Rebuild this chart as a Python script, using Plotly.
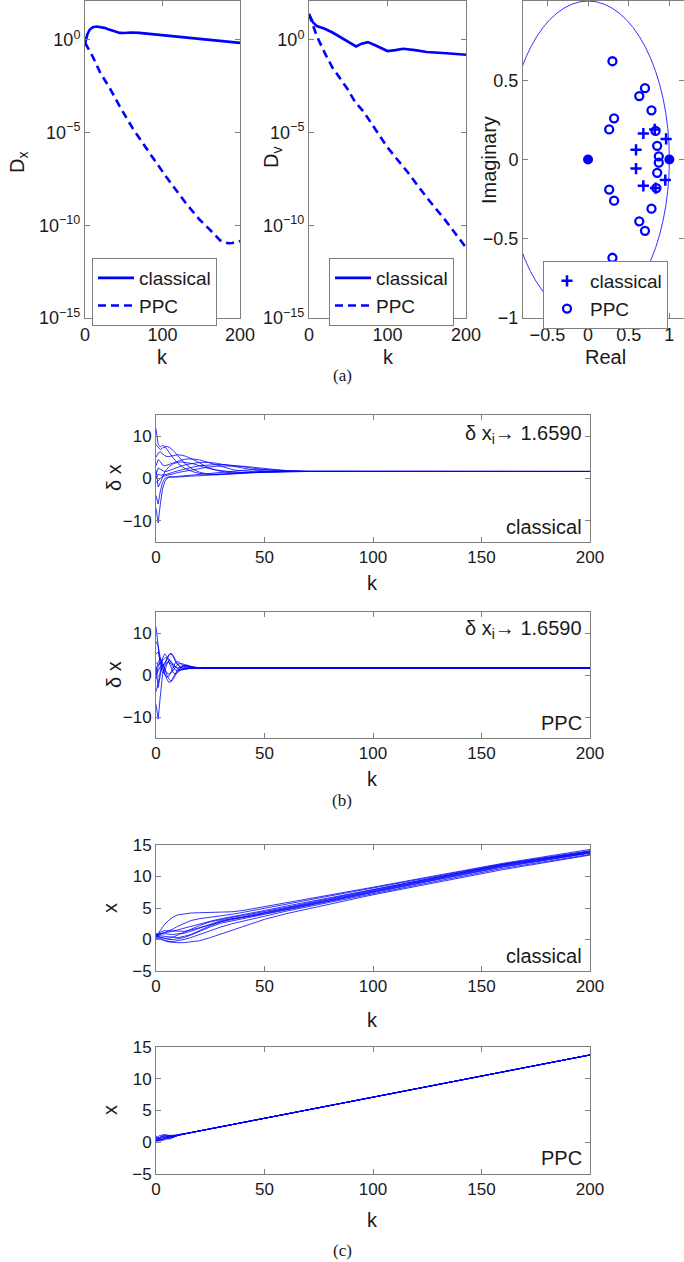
import numpy as np
import plotly.graph_objects as go

W, H = 684, 1262
BLUE = "#0000ff"
FRAME = "#7f7f7f"
TXT = "#1a1a1a"
FONT = "Liberation Sans, Arial, Helvetica, sans-serif"

# ---------------- (a) disagreement norms (log10 values) ----------------
k_dx_classical = [0, 3, 6, 10, 15, 20, 25, 30, 35, 40, 45, 50, 60, 70, 80, 100, 120, 150, 175, 200]
log_dx_classical = [-0.2, 0.3, 0.55, 0.68, 0.72, 0.7, 0.65, 0.58, 0.5, 0.43, 0.38, 0.37, 0.4, 0.38,
                    0.34, 0.26, 0.19, 0.07, -0.04, -0.16]
k_dx_ppc = [0, 5, 10, 20, 32, 45, 62, 80, 105, 130, 148, 165, 174, 180, 185, 190, 195, 200]
log_dx_ppc = [-0.15, -0.5, -0.9, -1.8, -2.6, -3.6, -4.8, -5.9, -7.4, -8.8, -9.7, -10.4, -10.8,
              -10.93, -10.97, -10.95, -10.9, -10.85]

k_dv_classical = [0, 5, 10, 20, 30, 40, 50, 60, 67, 75, 85, 100, 110, 120, 135, 150, 175, 200]
log_dv_classical = [1.4, 0.95, 0.75, 0.6, 0.4, 0.15, -0.1, -0.35, -0.2, -0.12, -0.3, -0.6, -0.55,
                    -0.48, -0.55, -0.65, -0.72, -0.8]
k_dv_ppc = [0, 10, 20, 30, 40, 50, 58, 70, 100, 125, 150, 175, 200]
log_dv_ppc = [1.4, 0.2, -0.7, -1.5, -2.1, -2.7, -3.3, -3.9, -5.8, -7.1, -8.5, -9.8, -11.2]

# eigenvalues
eig_classical_re = [0.68, 0.82, 0.96, 0.59, 0.59, 0.68, 0.83, 0.95]
eig_classical_im = [0.164, 0.19, 0.13, 0.061, -0.057, -0.166, -0.18, -0.13]
eig_ppc_re = [0.30, 0.70, 0.63, 0.78, 0.32, 0.26, 0.83, 0.85, 0.87,
              0.87, 0.85, 0.84, 0.26, 0.32, 0.78, 0.63, 0.70, 0.30]
eig_ppc_im = [0.62, 0.45, 0.40, 0.31, 0.26, 0.19, 0.18, 0.086, 0.02,
              -0.02, -0.084, -0.18, -0.19, -0.26, -0.31, -0.39, -0.45, -0.62]
eig_common_re = [0.0, 1.0]
eig_common_im = [0.0, 0.0]

# ---------------- (b) delta x trajectories ----------------
k_b_classical = [0, 1, 2, 3, 4, 5, 6, 8, 10, 12, 14, 17, 20, 24, 28, 32, 36, 40, 45, 50, 55, 60, 70, 200]
dx_classical = [
    [11.8, 8.0, 7.5, 7.8, 7.6, 7.0, 6.2, 4.8, 3.6, 2.8, 2.2, 1.6, 1.2, 1.0, 1.0, 1.1, 1.3, 1.4, 1.5, 1.6, 1.62, 1.65, 1.66, 1.659],
    [8.0, 7.5, 6.8, 7.2, 7.5, 7.6, 7.4, 6.6, 5.4, 4.2, 3.2, 2.2, 1.5, 1.0, 0.9, 1.0, 1.2, 1.4, 1.5, 1.6, 1.64, 1.65, 1.66, 1.659],
    [5.0, 6.0, 6.3, 5.8, 5.4, 5.2, 5.2, 5.4, 5.6, 5.5, 5.2, 4.5, 3.6, 2.6, 1.9, 1.5, 1.3, 1.3, 1.4, 1.5, 1.6, 1.64, 1.66, 1.659],
    [3.0, 4.5, 4.0, 3.2, 3.0, 3.1, 3.3, 3.7, 4.1, 4.4, 4.6, 4.6, 4.4, 3.8, 3.1, 2.5, 2.0, 1.8, 1.6, 1.6, 1.62, 1.64, 1.66, 1.659],
    [1.0, 2.5, 2.2, 1.8, 1.6, 1.7, 1.9, 2.3, 2.7, 3.0, 3.3, 3.6, 3.8, 3.8, 3.6, 3.2, 2.8, 2.4, 2.0, 1.8, 1.7, 1.66, 1.66, 1.659],
    [0.0, 1.0, 0.8, 0.8, 0.9, 1.0, 1.2, 1.5, 1.8, 2.1, 2.4, 2.7, 3.0, 3.2, 3.3, 3.3, 3.1, 2.8, 2.4, 2.1, 1.9, 1.75, 1.68, 1.659],
    [-1.0, -0.5, 0.2, 0.5, 0.6, 0.7, 0.9, 1.1, 1.4, 1.6, 1.8, 2.1, 2.4, 2.7, 2.9, 3.0, 3.0, 2.9, 2.6, 2.3, 2.0, 1.85, 1.7, 1.659],
    [-4.0, -6.0, -3.0, -1.0, 0.0, 0.3, 0.4, 0.4, 0.5, 0.6, 0.7, 0.8, 0.9, 1.1, 1.3, 1.5, 1.7, 1.9, 2.1, 2.1, 2.0, 1.9, 1.72, 1.659],
    [-7.0, -10.5, -6.0, -2.5, -0.8, 0.0, 0.3, 0.3, 0.3, 0.4, 0.5, 0.6, 0.7, 0.8, 0.9, 1.0, 1.1, 1.2, 1.35, 1.5, 1.6, 1.65, 1.66, 1.659],
    [2.0, -2.0, -1.0, 0.5, 1.5, 2.2, 2.8, 3.5, 3.8, 3.9, 3.8, 3.5, 3.0, 2.4, 2.0, 1.7, 1.5, 1.4, 1.45, 1.5, 1.58, 1.63, 1.66, 1.659],
]

k_b_ppc = [0, 1, 2, 3, 4, 5, 6, 7, 8, 9, 10, 12, 14, 16, 18, 20, 24, 28, 35, 200]
dx_ppc = [
    [11.5, 6.0, 2.0, 0.5, 1.0, 2.5, 3.5, 3.2, 2.5, 1.8, 1.4, 1.3, 1.5, 1.7, 1.7, 1.66, 1.66, 1.659, 1.659, 1.659],
    [8.0, 7.0, 4.0, 2.0, 2.5, 3.8, 4.8, 5.2, 4.6, 3.5, 2.5, 1.5, 1.4, 1.6, 1.75, 1.72, 1.67, 1.66, 1.659, 1.659],
    [5.0, 5.5, 3.5, 2.0, 2.8, 4.0, 4.9, 5.0, 4.3, 3.2, 2.4, 1.7, 1.6, 1.7, 1.72, 1.7, 1.67, 1.66, 1.659, 1.659],
    [3.0, 2.5, 3.0, 3.5, 4.0, 4.2, 3.8, 3.0, 2.2, 1.8, 1.7, 1.9, 2.1, 2.0, 1.85, 1.75, 1.68, 1.66, 1.659, 1.659],
    [1.0, 3.0, 4.0, 3.0, 1.5, 0.5, 0.2, 0.5, 1.2, 2.0, 2.6, 2.7, 2.3, 1.9, 1.7, 1.65, 1.65, 1.66, 1.659, 1.659],
    [0.0, 1.0, 2.0, 2.5, 1.5, 0.0, -1.0, -1.5, -1.0, 0.0, 0.9, 2.0, 2.4, 2.1, 1.8, 1.7, 1.66, 1.659, 1.659, 1.659],
    [-1.0, 2.0, 3.0, 1.5, 0.0, -0.5, -0.2, 0.8, 2.0, 3.0, 3.2, 2.6, 1.8, 1.5, 1.55, 1.62, 1.65, 1.66, 1.659, 1.659],
    [-4.0, -2.0, 1.0, 2.0, 0.5, -1.0, -1.8, -1.5, -0.5, 0.5, 1.3, 2.2, 2.3, 1.9, 1.7, 1.64, 1.65, 1.66, 1.659, 1.659],
    [-7.0, -10.5, -5.0, 0.0, 2.0, 3.0, 3.2, 2.6, 1.8, 1.2, 1.0, 1.2, 1.5, 1.65, 1.7, 1.68, 1.66, 1.659, 1.659, 1.659],
    [2.0, -3.0, 0.0, 4.0, 5.0, 4.5, 3.0, 1.5, 0.5, 0.2, 0.6, 1.4, 1.9, 1.9, 1.75, 1.7, 1.66, 1.659, 1.659, 1.659],
]

# ---------------- (c) position trajectories ----------------
k_c_classical = [0, 2, 4, 6, 8, 10, 13, 16, 20, 25, 30, 35, 40, 50, 60, 80, 100, 130, 160, 200]
x_classical = [
    [0.5, 1.5, 2.4, 3.1, 3.6, 3.9, 4.1, 4.2, 4.25, 4.3, 4.35, 4.4, 4.6, 5.2, 5.8, 7.0, 8.3, 10.2, 12.1, 14.3],
    [0.5, 0.8, 1.0, 1.3, 1.7, 2.1, 2.6, 3.0, 3.3, 3.5, 3.8, 4.0, 4.3, 5.0, 5.6, 6.9, 8.2, 10.1, 12.0, 14.1],
    [0.8, 1.0, 1.1, 1.2, 1.3, 1.5, 1.8, 2.1, 2.5, 2.9, 3.3, 3.6, 3.9, 4.6, 5.3, 6.6, 8.0, 9.9, 11.9, 14.0],
    [0.3, 1.2, 1.4, 1.4, 1.3, 1.3, 1.3, 1.5, 1.9, 2.4, 2.9, 3.3, 3.6, 4.3, 5.0, 6.4, 7.8, 9.8, 11.8, 13.9],
    [0.6, 0.9, 0.9, 0.8, 0.8, 0.9, 1.0, 1.3, 1.8, 2.5, 3.0, 3.3, 3.5, 4.2, 4.9, 6.3, 7.7, 9.7, 11.7, 13.8],
    [0.4, 0.6, 0.5, 0.4, 0.3, 0.3, 0.5, 0.8, 1.4, 2.2, 2.8, 3.2, 3.5, 4.1, 4.8, 6.2, 7.6, 9.6, 11.6, 13.75],
    [0.5, 0.3, 0.1, 0.0, 0.0, 0.1, 0.3, 0.7, 1.3, 2.0, 2.6, 3.0, 3.3, 4.0, 4.7, 6.1, 7.5, 9.5, 11.5, 13.7],
    [0.2, 0.0, -0.2, -0.3, -0.3, -0.2, 0.0, 0.3, 0.8, 1.4, 2.0, 2.5, 2.9, 3.7, 4.5, 5.9, 7.3, 9.3, 11.3, 13.5],
    [0.5, 0.1, -0.2, -0.4, -0.5, -0.5, -0.5, -0.4, -0.2, 0.3, 0.9, 1.5, 2.1, 3.2, 4.1, 5.6, 7.1, 9.1, 11.1, 13.4],
    [1.0, 0.4, 0.2, 0.2, 0.4, 0.7, 1.1, 1.6, 2.2, 2.8, 3.2, 3.5, 3.8, 4.4, 5.1, 6.5, 7.9, 9.9, 11.9, 13.95],
]

k_c_ppc = [0, 1, 2, 3, 4, 5, 6, 7, 8, 10, 12, 15, 20, 200]
x_ppc = [
    [0.5, 0.9, 1.1, 1.0, 0.8, 0.6, 0.5, 0.6, 0.8, 1.1, 1.25, 1.45, 1.78, 13.75],
    [0.2, 0.5, 0.8, 1.1, 1.2, 1.2, 1.1, 0.9, 0.8, 1.05, 1.25, 1.45, 1.78, 13.75],
    [0.8, 0.6, 0.4, 0.4, 0.5, 0.7, 0.9, 1.0, 1.0, 1.12, 1.25, 1.45, 1.78, 13.75],
    [0.3, 0.2, 0.3, 0.5, 0.7, 0.9, 1.0, 1.1, 1.05, 1.1, 1.25, 1.45, 1.78, 13.75],
    [0.6, 0.3, 0.2, 0.3, 0.4, 0.5, 0.6, 0.8, 0.9, 1.1, 1.25, 1.45, 1.78, 13.75],
    [0.0, 0.4, 0.7, 0.9, 1.0, 0.9, 0.8, 0.8, 0.9, 1.1, 1.25, 1.45, 1.78, 13.75],
    [1.0, 0.7, 0.5, 0.5, 0.6, 0.8, 1.0, 1.05, 1.0, 1.1, 1.25, 1.45, 1.78, 13.75],
    [0.4, 0.3, 0.5, 0.8, 1.0, 1.1, 1.0, 0.9, 0.95, 1.1, 1.25, 1.45, 1.78, 13.75],
    [0.7, 0.6, 0.6, 0.7, 0.8, 0.8, 0.8, 0.9, 1.0, 1.1, 1.25, 1.45, 1.78, 13.75],
    [0.1, 0.5, 0.9, 1.2, 1.1, 0.9, 0.7, 0.7, 0.9, 1.1, 1.25, 1.45, 1.78, 13.75],
]

# ---------------- layout helpers (pixel boxes) ----------------
def dx(l, r):
    return [l / W, min(r / W, 1.0)]

def dy(t, b):
    return [1 - b / H, 1 - t / H]

def px(x):
    return x / W

def py(y):
    return 1 - y / H

fig = go.Figure()

# (a1)
fig.add_trace(go.Scatter(x=k_dx_classical, y=np.power(10.0, log_dx_classical), mode="lines",
                         line=dict(color=BLUE, width=2.6), name="classical",
                         xaxis="x", yaxis="y", legend="legend"))
fig.add_trace(go.Scatter(x=k_dx_ppc, y=np.power(10.0, log_dx_ppc), mode="lines",
                         line=dict(color=BLUE, width=2.6, dash="8px,5px"), name="PPC",
                         xaxis="x", yaxis="y", legend="legend"))
# (a2)
fig.add_trace(go.Scatter(x=k_dv_classical, y=np.power(10.0, log_dv_classical), mode="lines",
                         line=dict(color=BLUE, width=2.6), name="classical",
                         xaxis="x2", yaxis="y2", legend="legend2"))
fig.add_trace(go.Scatter(x=k_dv_ppc, y=np.power(10.0, log_dv_ppc), mode="lines",
                         line=dict(color=BLUE, width=2.6, dash="8px,5px"), name="PPC",
                         xaxis="x2", yaxis="y2", legend="legend2"))
# (a3)
fig.add_trace(go.Scatter(x=eig_classical_re, y=eig_classical_im, mode="markers",
                         marker=dict(symbol="cross-thin", size=8, color=BLUE,
                                     line=dict(color=BLUE, width=2.5)),
                         name="classical", xaxis="x3", yaxis="y3", legend="legend3"))
fig.add_trace(go.Scatter(x=eig_ppc_re, y=eig_ppc_im, mode="markers",
                         marker=dict(symbol="circle-open", size=8, color=BLUE,
                                     line=dict(color=BLUE, width=2.3)),
                         name="PPC", xaxis="x3", yaxis="y3", legend="legend3"))
fig.add_trace(go.Scatter(x=eig_common_re, y=eig_common_im, mode="markers",
                         marker=dict(symbol="circle", size=10, color=BLUE),
                         showlegend=False, xaxis="x3", yaxis="y3"))

# (b) and (c) multi-agent lines
for series in dx_classical:
    fig.add_trace(go.Scatter(x=k_b_classical, y=series, mode="lines",
                             line=dict(color=BLUE, width=0.8), showlegend=False,
                             xaxis="x4", yaxis="y4"))
for series in dx_ppc:
    fig.add_trace(go.Scatter(x=k_b_ppc, y=series, mode="lines",
                             line=dict(color=BLUE, width=0.8), showlegend=False,
                             xaxis="x5", yaxis="y5"))
for series in x_classical:
    fig.add_trace(go.Scatter(x=k_c_classical, y=series, mode="lines",
                             line=dict(color=BLUE, width=0.8), showlegend=False,
                             xaxis="x6", yaxis="y6"))
for series in x_ppc:
    fig.add_trace(go.Scatter(x=k_c_ppc, y=series, mode="lines",
                             line=dict(color=BLUE, width=0.8), showlegend=False,
                             xaxis="x7", yaxis="y7"))

def ax(domain, anchor, tickfont=17, **kw):
    d = dict(domain=domain, anchor=anchor, showline=True, linecolor=FRAME, linewidth=1,
             mirror="allticks", ticks="inside", ticklen=5, tickcolor=FRAME, tickwidth=1,
             showgrid=False, zeroline=False, automargin=False,
             tickfont=dict(family=FONT, size=tickfont, color=TXT))
    d.update(kw)
    return d

boxes = {
    1: (85, 240, 1, 318),
    2: (309, 466, 1, 318),
    3: (523, 686, 1, 318),
    4: (156, 590, 415, 542),
    5: (156, 590, 612, 738),
    6: (156, 590, 845, 971),
    7: (156, 590, 1047, 1174),
}

logticks = [1e-15, 1e-10, 1e-5, 1]
logtext = ["10<sup>\u221215</sup>", "10<sup>\u221210</sup>", "10<sup>\u22125</sup>", "10<sup>0</sup>"]
kticks200 = [0, 50, 100, 150, 200]

layout = dict(width=W, height=H, margin=dict(l=0, r=0, t=0, b=0, pad=0, autoexpand=False),
              paper_bgcolor="white", plot_bgcolor="white",
              font=dict(family=FONT, color=TXT))

for i, (l, r, t, b) in boxes.items():
    sx = "" if i == 1 else str(i)
    xd = dx(l, r)
    yd = dy(t, b)
    if i in (1, 2):
        layout["xaxis" + sx] = ax(xd, "y" + sx, 18, range=[0, 200], tickvals=[0, 100, 200])
        layout["yaxis" + sx] = ax(yd, "x" + sx, 18, type="log", range=[-15, 2.1],
                                  tickvals=logticks, ticktext=logtext)
    elif i == 3:
        layout["xaxis3"] = ax(xd, "y3", 18, range=[-0.8, 1.18], tickvals=[-0.5, 0, 0.5, 1],
                              ticktext=["\u22120.5", "0", "0.5", "1"])
        layout["yaxis3"] = ax(yd, "x3", 18, range=[-1, 1], tickvals=[-1, -0.5, 0, 0.5, 1],
                              ticktext=["\u22121", "\u22120.5", "0", "0.5", "1"])
    elif i in (4, 5):
        layout["xaxis" + sx] = ax(xd, "y" + sx, 17, range=[0, 200], tickvals=kticks200)
        layout["yaxis" + sx] = ax(yd, "x" + sx, 17, range=[-15, 15], tickvals=[-10, 0, 10],
                                  ticktext=["\u221210", "0", "10"])
    else:
        layout["xaxis" + sx] = ax(xd, "y" + sx, 17, range=[0, 200], tickvals=kticks200)
        layout["yaxis" + sx] = ax(yd, "x" + sx, 17, range=[-5, 15], tickvals=[-5, 0, 5, 10, 15],
                                  ticktext=["\u22125", "0", "5", "10", "15"])

leg_common = dict(bgcolor="white", bordercolor=FRAME, borderwidth=1,
                  font=dict(family=FONT, size=19, color=TXT), xanchor="left", yanchor="top",
                  itemwidth=36, tracegroupgap=0)
layout["legend"] = dict(leg_common, x=px(92), y=py(258))
layout["legend2"] = dict(leg_common, x=px(329), y=py(258))
layout["legend3"] = dict(leg_common, x=px(543), y=py(261))
layout["showlegend"] = True

# unit circle on the eigenvalue plot
layout["shapes"] = [dict(type="circle", xref="x3", yref="y3", x0=-1, y0=-1, x1=1, y1=1,
                         line=dict(color=BLUE, width=0.8), layer="above")]

def ann(text, x, y, size=19, angle=0, xanchor="center", family=FONT):
    return dict(text=text, x=px(x), y=py(y), xref="paper", yref="paper", showarrow=False,
                xanchor=xanchor, yanchor="middle", textangle=angle,
                font=dict(family=family, size=size, color=TXT))

serif = "Liberation Serif, Times New Roman, serif"
anns = [
    ann("D<sub>x</sub>", 18, 163, 20, -90),
    ann("D<sub>v</sub>", 272, 158, 20, -90),
    ann("Imaginary", 489, 160, 20, -90),
    ann("k", 162, 357, 20),
    ann("k", 388, 357, 20),
    ann("Real", 605, 357, 20),
    ann("(a)", 342, 376, 17, family=serif),
    ann("\u03b4 x", 114, 478, 20, -90),
    ann("k", 373, 583, 20),
    ann("\u03b4 x<sub>i</sub>\u2192 1.6590", 584, 434, 20, xanchor="right"),
    ann("classical", 584, 527, 20, xanchor="right"),
    ann("\u03b4 x", 114, 675, 20, -90),
    ann("k", 373, 779, 20),
    ann("\u03b4 x<sub>i</sub>\u2192 1.6590", 584, 629, 20, xanchor="right"),
    ann("PPC", 584, 723, 20, xanchor="right"),
    ann("(b)", 342, 800, 17, family=serif),
    ann("x", 110, 908, 20, -90),
    ann("k", 373, 1020, 20),
    ann("classical", 584, 956, 20, xanchor="right"),
    ann("x", 110, 1110, 20, -90),
    ann("k", 373, 1220, 20),
    ann("PPC", 584, 1158, 20, xanchor="right"),
    ann("(c)", 342, 1250, 17, family=serif),
]
layout["annotations"] = anns

fig.update_layout(**layout)
fig.write_html("out.html", config={"displayModeBar": False},
               post_script="document.body.style.margin='0px';document.body.style.overflow='hidden';")
